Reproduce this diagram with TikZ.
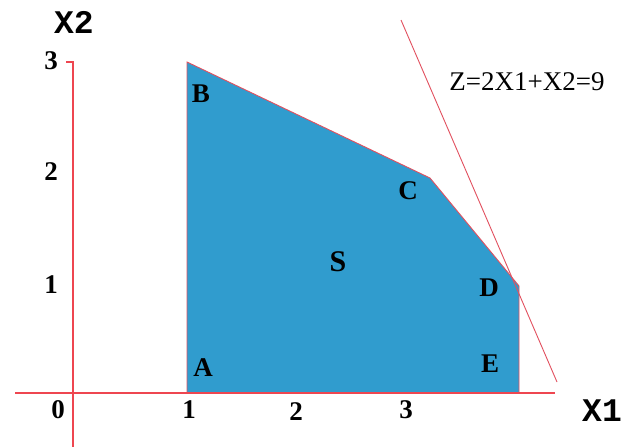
\documentclass[tikz,border=0pt]{standalone}
\usepackage{fontspec}
\setmainfont{Liberation Serif}
\newfontfamily\monob{Liberation Mono}
\begin{document}
\begin{tikzpicture}[x=1pt,y=-1pt,
  redline/.style={draw={rgb,255:red,238;green,70;blue,80}, line width=1.2pt},
  thinred/.style={draw={rgb,255:red,226;green,80;blue,95}, line width=0.9pt},
  lbl/.style={font=\fontsize{27}{29}\selectfont\bfseries, inner sep=0pt},
  axlbl/.style={font=\fontsize{33}{36}\selectfont\monob\bfseries, inner sep=0pt}]
\useasboundingbox[fill=white] (0,0) rectangle (627,447);
% region vertices
\coordinate (A) at (187,393);
\coordinate (B) at (187,62);
\coordinate (C) at (430,178);
\coordinate (D) at (519,286);
\coordinate (E) at (519,393);
\fill[fill={rgb,255:red,48;green,156;blue,206}] (A) -- (B) -- (C) -- (D) -- (E) -- cycle;
\draw[thinred] (A) -- (B) -- (C) -- (D) -- (E);
% axes
\coordinate (xs) at (15,393);
\coordinate (xe) at (555,393);
\coordinate (ys) at (73,447);
\coordinate (ye) at (73,62);
\coordinate (yt) at (66,62);
\draw[redline] (xs) -- (xe);
\draw[redline] (ys) -- (ye) -- (yt);
% objective line
\coordinate (z1) at (401,20);
\coordinate (z2) at (557,382);
\draw[thinred] (z1) -- (z2);
% labels
\node[axlbl] (lx2) at (74,22) {X2};
\node[axlbl] (lx1) at (602,411) {X1};
\node[lbl] (ly3) at (51,61) {3};
\node[lbl] (ly2) at (51,172) {2};
\node[lbl] (ly1) at (51,285) {1};
\node[lbl] (l0) at (58,410) {0};
\node[lbl] (lx1t) at (189,410) {1};
\node[lbl] (lx2t) at (296,412) {2};
\node[lbl] (lx3t) at (406,410) {3};
\node[lbl] (nA) at (203,368) {A};
\node[lbl] (nB) at (201,94) {B};
\node[lbl] (nC) at (408,191) {C};
\node[lbl] (nD) at (489,288) {D};
\node[lbl] (nE) at (490,364) {E};
\node[lbl, font=\fontsize{30}{32}\selectfont\bfseries] (nS) at (338,262) {S};
\node[inner sep=0pt, font=\fontsize{27}{29}\selectfont] (zl) at (527,82) {Z=2X1+X2=9};
\end{tikzpicture}
\end{document}
